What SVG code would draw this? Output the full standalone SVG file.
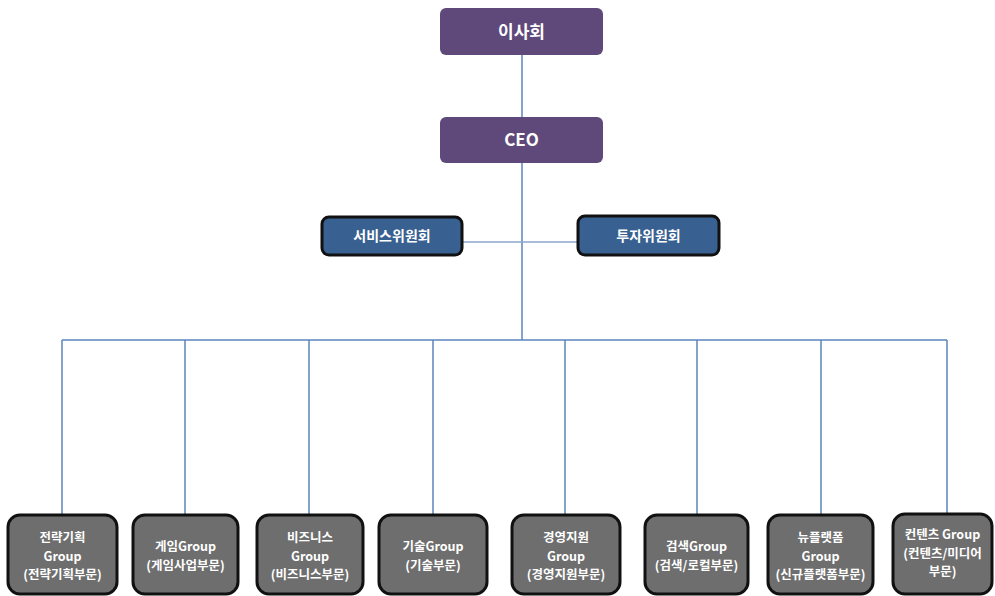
<svg xmlns="http://www.w3.org/2000/svg" width="995" height="596" viewBox="0 0 995 596">
<style>
.top{fill:#5f497a}
.com{fill:#386090;stroke:#111;stroke-width:3}
.grp{fill:#6e6e6e;stroke:#111;stroke-width:3}
text{font-family:"Noto Sans CJK KR","Noto Sans",sans-serif;font-weight:bold;fill:#fff;text-anchor:middle}
.t1{font-size:17px}
.t2{font-size:14px}
.t3{font-size:12.5px}
.ln{stroke:#5a85bd;stroke-width:1.5;fill:none}
</style>
<rect width="995" height="596" fill="#fff"/>
<g id="connectors">
<line class="ln" x1="522" y1="55" x2="522" y2="117"/>
<line class="ln" x1="522" y1="163" x2="522" y2="340"/>
<line class="ln" x1="462" y1="242" x2="578" y2="242" style="stroke:#8aa6c8"/>
<line class="ln" x1="62" y1="340" x2="947" y2="340"/>
<line class="ln" x1="62" y1="340" x2="62" y2="515"/>
<line class="ln" x1="185" y1="340" x2="185" y2="515"/>
<line class="ln" x1="309" y1="340" x2="309" y2="515"/>
<line class="ln" x1="433" y1="340" x2="433" y2="515"/>
<line class="ln" x1="565" y1="340" x2="565" y2="515"/>
<line class="ln" x1="697" y1="340" x2="697" y2="515"/>
<line class="ln" x1="821" y1="340" x2="821" y2="515"/>
<line class="ln" x1="947" y1="340" x2="947" y2="515"/>
</g>
<g id="board"><rect class="top" x="440" y="8" width="163" height="47" rx="6"/><text class="t1" x="521.5" y="38">이사회</text></g>
<g id="ceo"><rect class="top" x="440" y="117" width="163" height="46" rx="6"/><text class="t1" x="521.5" y="146">CEO</text></g>
<g id="service"><rect class="com" x="322" y="217" width="140" height="38" rx="7"/><text class="t2" x="392" y="241">서비스위원회</text></g>
<g id="invest"><rect class="com" x="578" y="216" width="141" height="39" rx="7"/><text class="t2" x="648.5" y="241">투자위원회</text></g>
<g id="g1"><rect class="grp" x="8" y="515" width="109" height="79" rx="12"/><text class="t3" x="62.5" y="542">전략기획</text><text class="t3" x="62.5" y="560.5">Group</text><text class="t3" x="62.5" y="579">(전략기획부문)</text></g>
<g id="g2"><rect class="grp" x="133" y="515" width="105" height="79" rx="12"/><text class="t3" x="185.5" y="551">게임Group</text><text class="t3" x="185.5" y="569.5">(게임사업부문)</text></g>
<g id="g3"><rect class="grp" x="257" y="515" width="106" height="79" rx="12"/><text class="t3" x="310" y="542">비즈니스</text><text class="t3" x="310" y="560.5">Group</text><text class="t3" x="310" y="579">(비즈니스부문)</text></g>
<g id="g4"><rect class="grp" x="379" y="515" width="108" height="79" rx="12"/><text class="t3" x="433" y="551">기술Group</text><text class="t3" x="433" y="569.5">(기술부문)</text></g>
<g id="g5"><rect class="grp" x="512" y="515" width="108" height="79" rx="12"/><text class="t3" x="566" y="542">경영지원</text><text class="t3" x="566" y="560.5">Group</text><text class="t3" x="566" y="579">(경영지원부문)</text></g>
<g id="g6"><rect class="grp" x="645" y="515" width="103" height="79" rx="12"/><text class="t3" x="696.5" y="551">검색Group</text><text class="t3" x="696.5" y="569.5">(검색/로컬부문)</text></g>
<g id="g7"><rect class="grp" x="768" y="515" width="105" height="79" rx="12"/><text class="t3" x="820.5" y="542">뉴플랫폼</text><text class="t3" x="820.5" y="560.5">Group</text><text class="t3" x="820.5" y="579">(신규플랫폼부문)</text></g>
<g id="g8"><rect class="grp" x="893" y="514" width="99" height="80" rx="12"/><text class="t3" x="942.5" y="539">컨텐츠 Group</text><text class="t3" x="942.5" y="557.5">(컨텐츠/미디어</text><text class="t3" x="942.5" y="576">부문)</text></g>
</svg>
